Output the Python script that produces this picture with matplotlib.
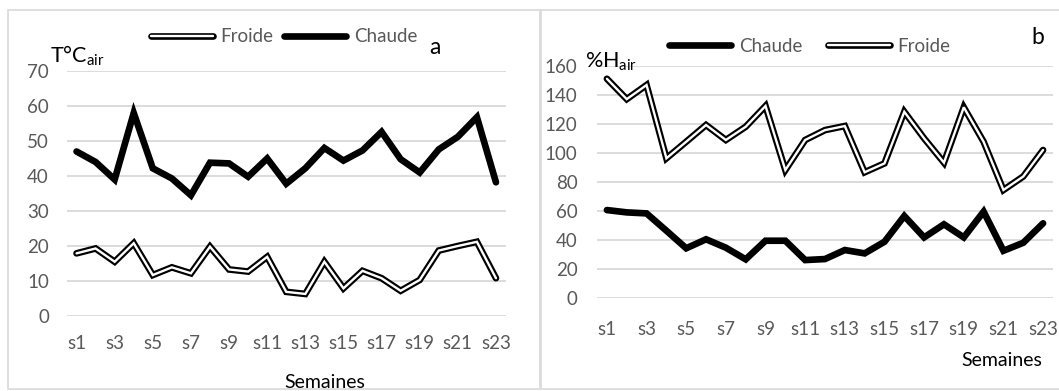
import matplotlib
matplotlib.use("Agg")
import matplotlib.pyplot as plt
from matplotlib.legend_handler import HandlerTuple
from matplotlib.patches import Rectangle

plt.rcParams['font.family'] = ['Lato', 'DejaVu Sans']
plt.rcParams['mathtext.fontset'] = 'custom'
plt.rcParams['mathtext.rm'] = 'Lato'

# Weekly air measurements
weeks = [f"s{i}" for i in range(1, 24)]
temp_chaude = [47, 44, 39, 58, 42.2, 39.3, 34.5, 43.8, 43.6, 39.8, 45, 37.8, 42.2,
               48, 44.4, 47.3, 52.6, 44.8, 41, 47.6, 51.2, 56.8, 38.2]
temp_froide = [17.9, 19.3, 15.5, 20.8, 11.7, 13.9, 12.2, 19.8, 13.3, 12.7, 16.9, 6.9, 6.3,
               15.5, 7.9, 12.9, 10.8, 7.2, 10.3, 18.7, 20, 21.2, 10.8]
hum_chaude = [60.7, 59.1, 58.4, 46.5, 34.4, 40.6, 34.8, 26.8, 39.6, 39.6, 26.3, 27, 33.2,
              30.9, 38.9, 56.6, 41.9, 50.9, 41.9, 59.6, 32.7, 38.2, 51.6]
hum_froide = [151, 137, 146.7, 96.3, 107.7, 119.2, 108.9, 118, 132.3, 88.2, 108.9, 115.7,
              118.5, 86.7, 92.8, 128.3, 110, 93.3, 131.4, 107.7, 74.5, 83.8, 102]

W, H = 1059, 391
fig = plt.figure(figsize=(W / 100, H / 100), dpi=100)


def box(x0, y0, x1, y1):
    return [x0 / W, 1 - y1 / H, (x1 - x0) / W, (y1 - y0) / H]


# panel frames
fig.patches.append(Rectangle((8 / W, 1 - 389 / H), 532 / W, 379 / H, transform=fig.transFigure,
                             fill=False, edgecolor='#d9d9d9', lw=1.2))
fig.patches.append(Rectangle((541 / W, 1 - 389 / H), 530 / W, 379 / H, transform=fig.transFigure,
                             fill=False, edgecolor='#d9d9d9', lw=1.2))

axL = fig.add_axes(box(67, 71, 505.5, 316))
axR = fig.add_axes(box(597, 65.7, 1053, 298.3))

GRAY = '#595959'
GRID = '#d9d9d9'
LW_OUT = 4.8
LW_IN = 1.7
TICK_FS = 13.5
LEG_FS = 13.5


def draw_hot(ax, y):
    ln, = ax.plot(range(len(weeks)), y, color='black', lw=LW_OUT,
                  solid_capstyle='round', solid_joinstyle='miter', zorder=3)
    return ln


def draw_cold(ax, y):
    outer, = ax.plot(range(len(weeks)), y, color='black', lw=LW_OUT,
                     solid_capstyle='round', solid_joinstyle='miter', zorder=3)
    inner, = ax.plot(range(len(weeks)), y, color='white', lw=LW_IN,
                     solid_capstyle='round', solid_joinstyle='miter', zorder=4)
    return (outer, inner)


def style(ax, ymax, ystep, xpad, ypad):
    ax.set_xlim(-0.5, len(weeks) - 0.5)
    ax.set_ylim(0, ymax)
    ax.set_yticks(range(0, ymax + 1, ystep))
    ax.set_xticks(range(0, len(weeks), 2))
    ax.set_xticklabels(weeks[::2])
    for s in ax.spines.values():
        s.set_visible(False)
    ax.tick_params(length=0, labelsize=TICK_FS, labelcolor=GRAY)
    ax.tick_params(axis='x', pad=xpad)
    ax.tick_params(axis='y', pad=ypad)
    ax.grid(axis='y', color=GRID, lw=1.3)
    ax.set_axisbelow(True)


# ---- panel a : air temperature
hL = draw_hot(axL, temp_chaude)
cL = draw_cold(axL, temp_froide)
style(axL, 70, 10, 14, 13)
axL.legend([cL, hL], ['Froide', 'Chaude'], handler_map={tuple: HandlerTuple(ndivide=1)},
           loc='center', bbox_to_anchor=((284 - 67) / 438.5, 1 + (71 - 37) / 245),
           ncol=2, frameon=False, fontsize=LEG_FS, handlelength=3.3, handletextpad=0.4,
           columnspacing=0.6, labelcolor=GRAY)
fig.text(50 / W, 1 - 56 / H, r'T°C$_{\mathregular{air}}$', fontsize=15.5, ha='left', va='center')
fig.text(435 / W, 1 - 48 / H, 'a', fontsize=16.5, ha='center', va='center')
fig.text(325 / W, 1 - 383 / H, 'Semaines', fontsize=14, ha='center', va='center')

# ---- panel b : air humidity
hR = draw_hot(axR, hum_chaude)
cR = draw_cold(axR, hum_froide)
style(axR, 160, 20, 16, 14)
axR.legend([hR, cR], ['Chaude', 'Froide'], handler_map={tuple: HandlerTuple(ndivide=1)},
           loc='center', bbox_to_anchor=((810 - 597) / 456, 1 + (65.7 - 46.5) / 232.6),
           ncol=2, frameon=False, fontsize=LEG_FS, handlelength=3.3, handletextpad=0.4,
           columnspacing=1.4, labelcolor=GRAY)
fig.text(585 / W, 1 - 62 / H, r'%H$_{\mathregular{air}}$', fontsize=15.5, ha='left', va='center')
fig.text(1038 / W, 1 - 37 / H, 'b', fontsize=16.5, ha='center', va='center')
fig.text(1002 / W, 1 - 360 / H, 'Semaines', fontsize=14, ha='center', va='center')

fig.savefig('out.png', dpi=100)
